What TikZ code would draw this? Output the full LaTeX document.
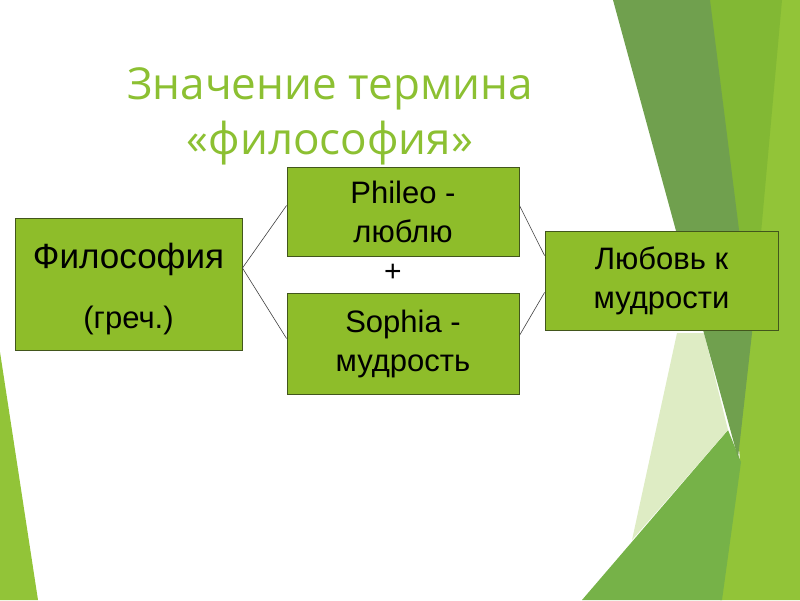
\documentclass[tikz,border=0pt]{standalone}
\usepackage{fontspec}
\setmainfont{Liberation Sans}
\newfontfamily\titlefont{Open Sans}
\usetikzlibrary{positioning}

\definecolor{boxfill}{RGB}{142,189,42}
\definecolor{boxline}{RGB}{66,86,28}
\definecolor{titlegreen}{RGB}{140,192,50}
\definecolor{darkband}{RGB}{112,160,78}
\definecolor{midlime}{RGB}{130,184,52}
\definecolor{rightlime}{RGB}{146,196,56}
\definecolor{bottomgreen}{RGB}{118,178,72}
\definecolor{palegreen}{RGB}{222,236,196}

\begin{document}
\begin{tikzpicture}[x=1pt,y=-1pt,
                    greenbox/.style={draw=boxline,fill=boxfill,line width=0.9pt,
                                     inner sep=0pt,align=center},
                    link/.style={draw=black!75,line width=0.6pt}]
	\useasboundingbox (0,0) rectangle (800,600);
	% background facets
	\fill[rightlime]	(700,0) -- (800,0) -- (800,600) -- (720,600) -- (740,460) -- cycle;
	\fill[midlime]		(707,0) -- (782,0) -- (752,333) -- cycle;
	\fill[bottomgreen]	(582,600) -- (728,430) -- (741,462) -- (722,600) -- cycle;
	\fill[palegreen]	(677,333) -- (704,333) -- (728,430) -- (632,540) -- cycle;
	\fill[darkband]		(613,0) -- (710,0) -- (752,333) -- (738,458) -- cycle;
	\fill[rightlime]	(0,352) -- (38,600) -- (0,600) -- cycle;
	% title
	\node[text=titlegreen,font=\titlefont\fontsize{44}{55}\selectfont,align=center]
		(title)	at (330,116)	{Значение термина\\«философия»};
	% boxes
	\node[greenbox,minimum width=227pt,minimum height=132pt,font=\fontsize{31}{32}\selectfont]
		(filo)	at (128.5,284)	{\rule{0pt}{36pt}\fontsize{35}{36}\selectfont Философия\\[28pt](греч.)};
	\node[greenbox,minimum width=232pt,minimum height=89pt,font=\fontsize{31}{39}\selectfont]
		(phil)	at (403,211.5)	{Phileo -\\люблю};
	\node[greenbox,minimum width=232pt,minimum height=101pt,font=\fontsize{31}{39}\selectfont]
		(soph)	at (403,343.5)	{Sophia -\\мудрость};
	\node[greenbox,minimum width=233pt,minimum height=99pt,font=\fontsize{31}{39}\selectfont]
		(love)	at (661.5,280.5)	{Любовь к\\мудрости};
	\node[font=\fontsize{30}{30}\selectfont]
		(plus)	at (393,273)	{+};
	% links
	\path[link]	([yshift=16pt]filo.east)	edge	([yshift=6pt]phil.west)
				edge	([yshift=5pt]soph.west)
			([yshift=6pt]phil.east)	edge	([yshift=25pt]love.west)
			([yshift=8pt]soph.east)	edge	([yshift=-12pt]love.west);
\end{tikzpicture}
\end{document}
